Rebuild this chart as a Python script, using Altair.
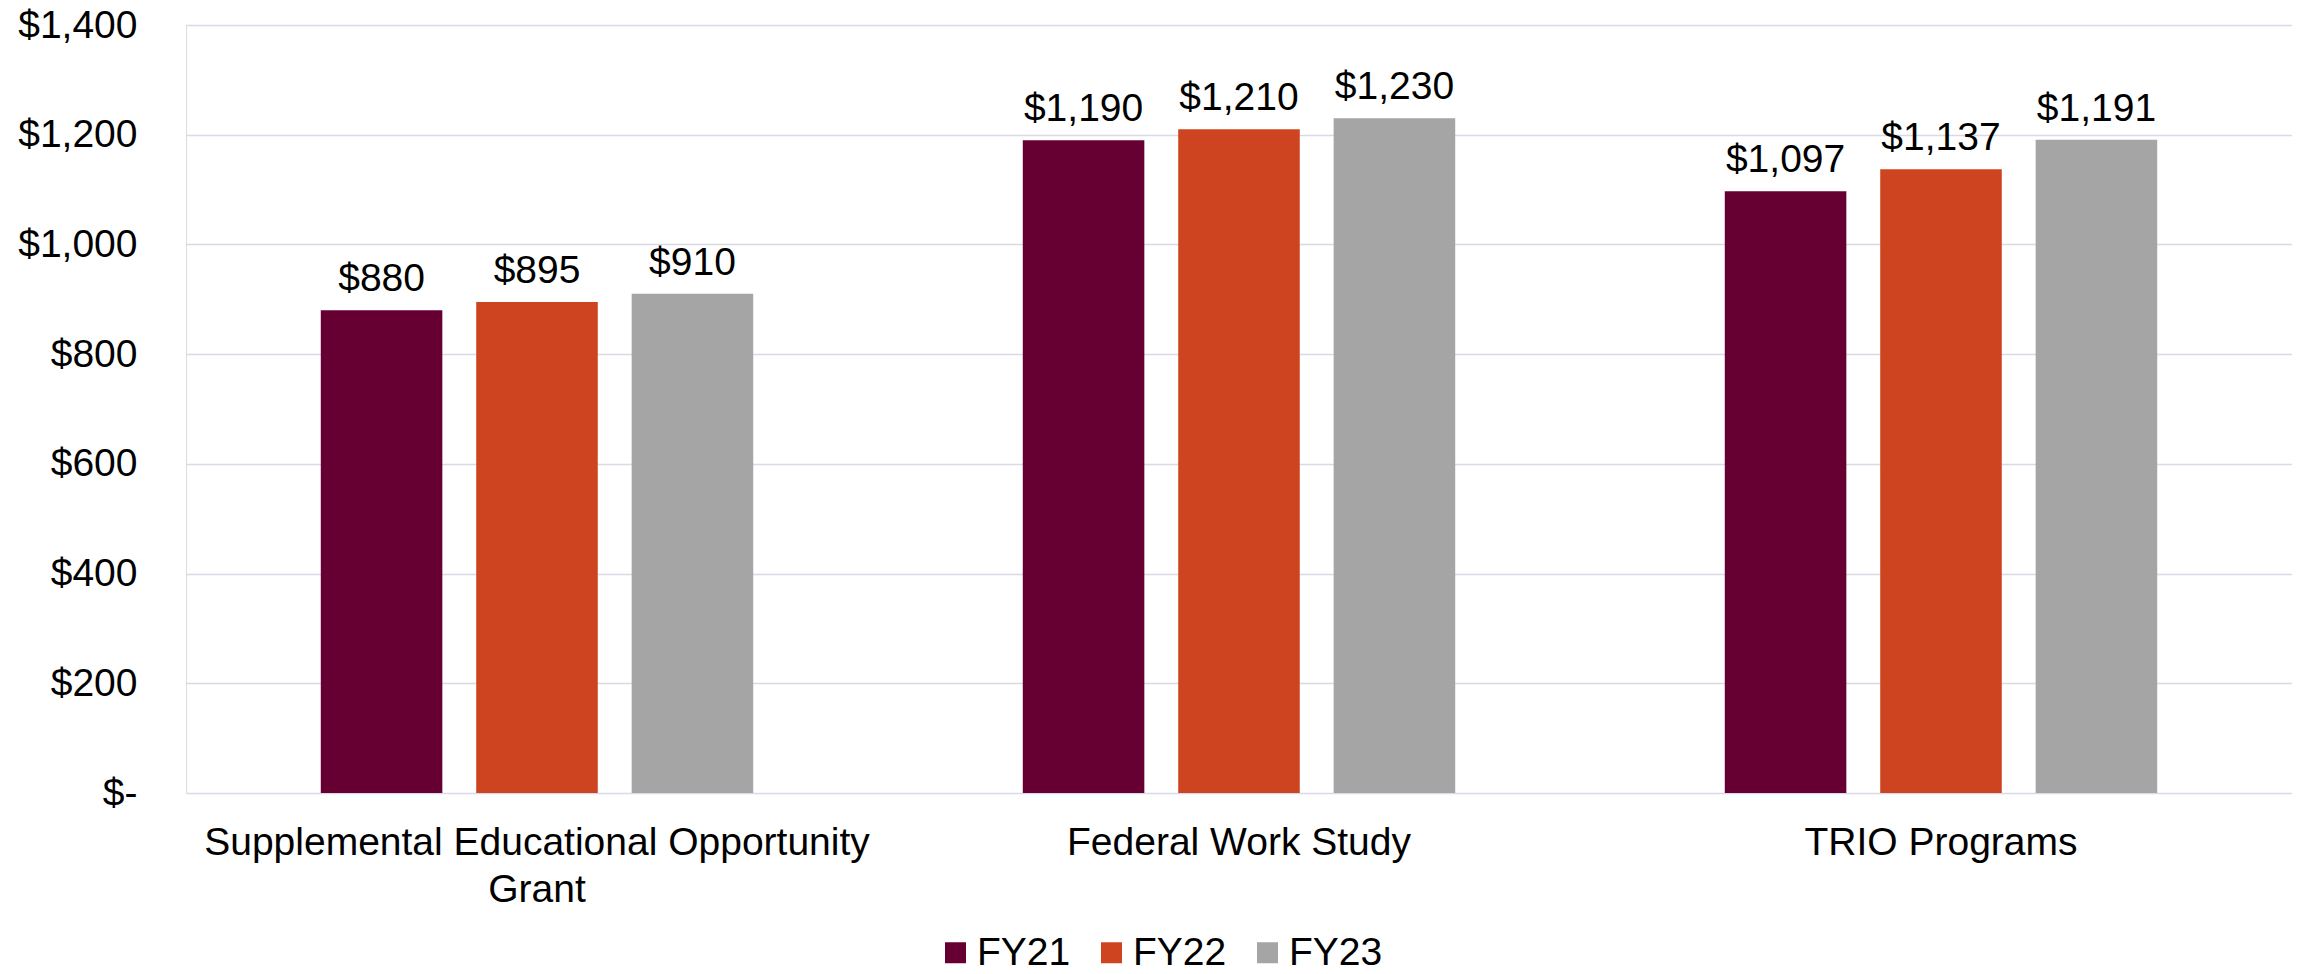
import altair as alt
import pandas as pd

categories = ["Supplemental Educational Opportunity Grant", "Federal Work Study", "TRIO Programs"]
years = ["FY21", "FY22", "FY23"]
fy21 = [880, 1190, 1097]
fy22 = [895, 1210, 1137]
fy23 = [910, 1230, 1191]
colors = ["#660033", "#CF4420", "#A5A5A5"]
y_ticks = [0, 200, 400, 600, 800, 1000, 1200, 1400]

rows = []
for i, c in enumerate(categories):
    for y, vals in zip(years, [fy21, fy22, fy23]):
        rows.append({"Program": c, "Year": y, "Value": vals[i]})
df = pd.DataFrame(rows)

FONT = "Liberation Sans"
FS = 39

x_label_expr = (
    "datum.label == 'Supplemental Educational Opportunity Grant' ? "
    "['Supplemental Educational Opportunity', 'Grant'] : datum.label"
)

base = alt.Chart(df).encode(
    x=alt.X(
        "Program:N",
        sort=categories,
        scale=alt.Scale(paddingInner=0.384, paddingOuter=0.192),
        axis=alt.Axis(
            title=None, labelAngle=0, labelFontSize=FS, labelFont=FONT,
            labelColor="black", labelPadding=30, labelBaseline="top",
            labelLineHeight=47, ticks=False, domain=False, grid=False,
            labelExpr=x_label_expr, labelLimit=0,
        ),
    ),
    xOffset=alt.XOffset("Year:N", sort=years,
                        scale=alt.Scale(paddingInner=0.218, paddingOuter=0)),
    y=alt.Y(
        "Value:Q",
        scale=alt.Scale(domain=[0, 1400], nice=False),
        axis=alt.Axis(
            title=None, values=y_ticks, labelFontSize=FS, labelFont=FONT,
            labelColor="black", labelPadding=49, ticks=False, domain=False,
            gridColor="#D9D9E8", gridWidth=1.5,
            labelExpr="datum.value == 0 ? '$-' : format(datum.value, '$,.0f')",
        ),
    ),
)

bars = base.mark_bar().encode(
    color=alt.Color(
        "Year:N",
        sort=years,
        scale=alt.Scale(domain=years, range=colors),
        legend=alt.Legend(
            title=None, orient="none", legendX=750, legendY=908,
            direction="horizontal", symbolType="square", symbolSize=441,
            symbolStrokeWidth=0, labelFontSize=FS, labelFont=FONT,
            labelColor="black", labelOffset=2, columnPadding=21, padding=0,
        ),
    )
)

labels = base.mark_text(
    baseline="alphabetic", dy=-19, fontSize=FS, font=FONT, color="black"
).encode(text=alt.Text("Value:Q", format="$,.0f"))

chart = (
    alt.layer(bars, labels)
    .properties(
        width=2106,
        height=768,
        padding={"left": 178, "top": 17, "right": 0, "bottom": 173},
        autosize=alt.AutoSizeParams(type="none"),
    )
    .configure_view(stroke=None)
    .configure(font=FONT)
)

chart.save("out.html", embed_options={"renderer": "svg", "actions": False})
